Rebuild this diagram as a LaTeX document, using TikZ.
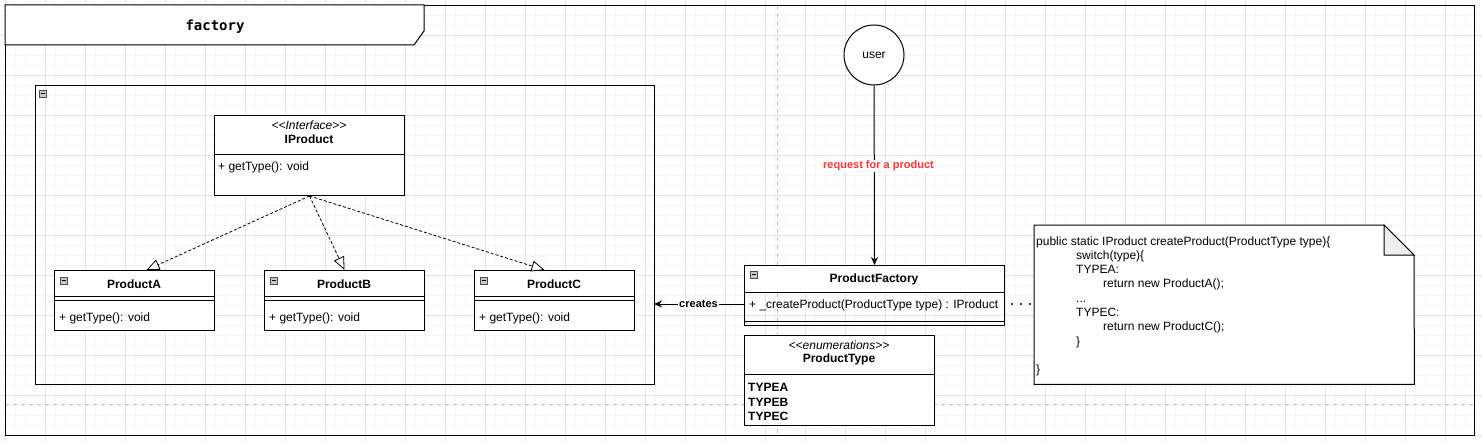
\documentclass[tikz,border=0pt]{standalone}
\usepackage{fontspec}
\setmainfont{Liberation Sans}
\newfontfamily\codefont{DejaVu Sans Mono}
\usetikzlibrary{arrows.meta}
\definecolor{minorg}{RGB}{247,247,247}
\definecolor{majorg}{RGB}{228,228,228}
\definecolor{pageline}{RGB}{192,192,192}
\definecolor{reqred}{RGB}{255,51,51}
\definecolor{foldgray}{RGB}{238,238,238}
\definecolor{icongray}{RGB}{200,200,200}
\newcommand{\lsq}{<\kern0pt<}
\newcommand{\rsq}{>\kern0pt>}
\begin{document}
\begin{tikzpicture}[x=1pt,y=-1pt,
  every node/.style={font=\fontsize{12}{14}\selectfont, inner sep=0pt},
  boxline/.style={draw=black, line width=1pt},
  classbox/.style={boxline, fill=white, anchor=north west, rectangle},
  nofillbox/.style={boxline, anchor=north west, rectangle},
  iconbox/.style={draw=black!70, fill=icongray, line width=0.5pt, anchor=north west, minimum size=7pt},
  cname/.style={font=\fontsize{12}{14}\selectfont\bfseries},
  stereo/.style={font=\fontsize{12}{14}\selectfont\itshape},
  member/.style={anchor=west},
  codeline/.style={anchor=base west},
  realize/.style={draw=black, line width=0.8pt, dash pattern=on 3pt off 2pt, -{Triangle[open, length=13pt, width=11pt, fill=white]}},
  assoc/.style={draw=black, line width=1pt, -{Stealth[length=8pt, width=7pt]}},
  elabel/.style={font=\fontsize{11}{13}\selectfont\bfseries, fill=white, inner sep=1pt},
]
\useasboundingbox (0,0) rectangle (1482,441);
\fill[white] (0,0) rectangle (1482,441);
% grid
\foreach \i in {5,15,...,1475} \draw[minorg, line width=0.8pt] (\i,0) -- (\i,441);
\foreach \j in {5,15,...,435} \draw[minorg, line width=0.8pt] (0,\j) -- (1482,\j);
\foreach \i in {5,45,...,1482} \draw[majorg, line width=0.8pt] (\i,0) -- (\i,441);
\foreach \j in {35,75,...,441} \draw[majorg, line width=0.8pt] (0,\j) -- (1482,\j);
% page boundaries
\draw[pageline, line width=0.8pt, dash pattern=on 4pt off 4pt] (777,5) -- (777,435);
\draw[pageline, line width=0.8pt, dash pattern=on 4pt off 4pt] (5,404) -- (1474,404);

% outer frame
\node[nofillbox, minimum width=1469, minimum height=430] (frame) at (5,5) {};
\draw[boxline, fill=white] (frame.north west) -- (424,5) -- (424,31) -- (414,45) -- (5,45) -- cycle;
\node[font=\codefont\fontsize{14}{16}\selectfont\bfseries] (title) at (215,26.5) {factory};

% container
\node[nofillbox, minimum width=619, minimum height=299] (cont) at (35,85) {};
\node[iconbox] (conticon) at (39,90) {};
\draw[black, line width=0.8pt] ([xshift=1.5pt,yshift=-3.5pt]conticon.north west) -- ([xshift=-1.5pt,yshift=-3.5pt]conticon.north east);

% IProduct
\node[classbox, minimum width=190, minimum height=80] (ip) at (214,115) {};
\draw[boxline] (214,154) -- (404,154);
\node[stereo] (ipst) at (309,125) {\lsq Interface\rsq};
\node[cname] (ipname) at (309,139.5) {IProduct};
\node[member] (ipm) at (218,167) {+ getType(): void};

% Products
\foreach \x/\nm/\lbl in {54/pa/ProductA, 264/pb/ProductB, 474/pc/ProductC} {
  \node[classbox, minimum width=160, minimum height=60] (\nm) at (\x,270) {};
  \draw[boxline] (\x,296.5) -- (\x+160,296.5);
  \draw[boxline] (\x,300) -- (\x+160,300);
  \node[iconbox] (\nm icon) at (\x+6,276.5) {};
  \draw[black, line width=0.8pt] ([xshift=1.5pt,yshift=-3.5pt]\nm icon.north west) -- ([xshift=-1.5pt,yshift=-3.5pt]\nm icon.north east);
  \node[cname] (\nm name) at (\x+80,284) {\lbl};
  \node[member] (\nm m) at (\x+5,318) {+ getType(): void};
}

% realization arrows
\draw[realize] (ip.south) -- ([xshift=12pt]pa.north);
\draw[realize] (ip.south) -- (pb.north);
\draw[realize] (ip.south) -- ([xshift=-10pt]pc.north);

% user
\node[draw=black, line width=1pt, circle, fill=white, minimum size=60pt] (user) at (874,55) {user};

% ProductFactory
\draw[boxline, fill=white] (744,265) rectangle (1004,292);
\node[nofillbox, minimum width=260, minimum height=60] (pf) at (744,265) {};
\draw[boxline] (744,321) -- (1004,321);
\node[iconbox] (pficon) at (750,271) {};
\draw[black, line width=0.8pt] ([xshift=1.5pt,yshift=-3.5pt]pficon.north west) -- ([xshift=-1.5pt,yshift=-3.5pt]pficon.north east);
\node[cname] (pfname) at (874,279) {ProductFactory};
\node[member] (pfm) at (749,305) {+ \_createProduct(ProductType type) : IProduct};

% request arrow
\draw[assoc] (user) -- (pf.north);
\node[elabel, text=reqred] (req) at (878.5,166) {request for a product};

% creates arrow
\coordinate (pfleft) at (744,304);
\coordinate (contright) at (654,304);
\draw[assoc] (pfleft) -- (contright);
\node[elabel] (creates) at (698.5,304) {creates};

% ProductType
\node[classbox, minimum width=190, minimum height=90] (pt) at (744,335) {};
\draw[boxline] (744,374) -- (934,374);
\node[stereo] (ptst) at (839,345) {\lsq enumerations\rsq};
\node[cname] (ptname) at (839,359.5) {ProductType};
\node[member, cname] (ta) at (748,387.5) {TYPEA};
\node[member, cname] (tb) at (748,402) {TYPEB};
\node[member, cname] (tc) at (748,416.5) {TYPEC};

% note
\node[anchor=north west, minimum width=380, minimum height=159] (note) at (1034,225) {};
\draw[boxline, fill=white] (note.north west) -- (1384,225) -- (1414,255) -- (note.south east) -- (note.south west) -- cycle;
\draw[boxline, fill=foldgray] (1384,225) -- (1384,255) -- (1414,255) -- cycle;
\node[codeline] (c1) at (1036,245) {public static IProduct createProduct(ProductType type)\{};
\node[codeline] (c2) at (1076,259.3) {switch(type)\{};
\node[codeline] (c3) at (1076,273.6) {TYPEA:};
\node[codeline] (c4) at (1103,287.9) {return new ProductA();};
\node[codeline] (c5) at (1076,302.2) {...};
\node[codeline] (c6) at (1076,316.5) {TYPEC:};
\node[codeline] (c7) at (1103,330.8) {return new ProductC();};
\node[codeline] (c8) at (1076,345.1) {\}};
\node[codeline] (c9) at (1036,373.7) {\}};

% dotted link factory -> note
\draw[black, line width=2.2pt, line cap=round, dash pattern=on 0pt off 9pt] ([xshift=7pt]pf.east |- pfleft) -- (note.west |- pfleft);
\end{tikzpicture}
\end{document}
